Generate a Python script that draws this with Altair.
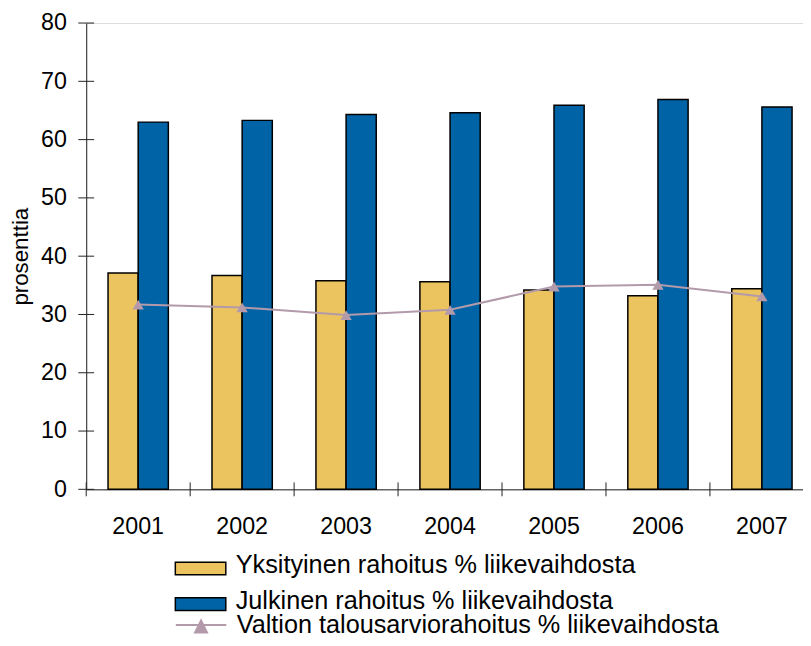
import altair as alt
import pandas as pd

years = ["2001", "2002", "2003", "2004", "2005", "2006", "2007"]
yksityinen = [37.1, 36.7, 35.8, 35.6, 34.2, 33.2, 34.4]
julkinen = [63.0, 63.3, 64.3, 64.6, 65.9, 66.9, 65.6]
valtion = [31.7, 31.2, 29.9, 30.8, 34.8, 35.1, 33.1]
bar_series = ["Yksityinen rahoitus % liikevaihdosta", "Julkinen rahoitus % liikevaihdosta"]
line_series = ["Valtion talousarviorahoitus % liikevaihdosta"]
y_ticks = [0, 10, 20, 30, 40, 50, 60, 70, 80]

bars_df = pd.DataFrame({
    "year": years * 2,
    "series": [bar_series[0]] * len(years) + [bar_series[1]] * len(years),
    "value": yksityinen + julkinen,
})
line_df = pd.DataFrame({"year": years, "series": line_series * len(years), "value": valtion})
ytick_df = pd.DataFrame({"v": y_ticks})
xtick_df = pd.DataFrame({"year": years})

FONT = "Liberation Sans"
YELLOW = "#EBC35F"
BLUE = "#0063A6"
MAUVE = "#B39AAB"
AXIS = "#222222"
W, H = 724, 471
RANGE = 735

yscale = alt.Scale(domain=[0, 80], nice=False, zero=True)
xscale = alt.Scale(domain=years, range=[0, RANGE], paddingInner=0.42, paddingOuter=0.21)

x_enc = alt.X("year:N", sort=years, scale=xscale,
              axis=alt.Axis(title=None, ticks=False, tickSize=0, labelFontSize=23.5, labelFont=FONT,
                            labelColor="#000000", labelPadding=26, domainColor=AXIS, labelAngle=0))
y_enc = alt.Y("value:Q", scale=yscale,
              axis=alt.Axis(title="prosenttia", values=y_ticks, ticks=False, tickSize=0, grid=False,
                            labelFontSize=23.5, labelFont=FONT, labelColor="#000000", labelPadding=20,
                            titleFontSize=22.5, titleFont=FONT, titleFontWeight="normal",
                            titleColor="#000000", titlePadding=8, domainColor=AXIS))

bars = alt.Chart(bars_df).mark_bar(stroke="#000000", strokeWidth=1.5).encode(
    x=x_enc,
    xOffset=alt.XOffset("series:N", sort=bar_series, scale=alt.Scale(paddingInner=0, paddingOuter=0)),
    y=y_enc,
    fill=alt.Fill("series:N", sort=bar_series,
                  scale=alt.Scale(domain=bar_series, range=[YELLOW, BLUE]),
                  legend=alt.Legend(title=None, orient="none", legendX=102, legendY=534,
                                    symbolType="M-2,-0.23H2V0.77H-2Z", symbolSize=650,
                                    symbolStrokeColor="#000000", symbolStrokeWidth=1.5,
                                    labelFont=FONT, labelFontSize=25.5, labelColor="#000000",
                                    labelOffset=22, rowPadding=9, padding=0, labelLimit=600)),
)

line = alt.Chart(line_df).mark_line(strokeWidth=2).encode(
    x=alt.X("year:N", sort=years),
    y=alt.Y("value:Q"),
    stroke=alt.Stroke("series:N", scale=alt.Scale(domain=line_series, range=[MAUVE]),
                      legend=alt.Legend(title=None, orient="none", legendX=102, legendY=594,
                                        symbolType="M-2,0H2M-0.47,0.59L0,-0.35L0.47,0.59Z",
                                        symbolSize=650, symbolFillColor=MAUVE, symbolStrokeColor=MAUVE,
                                        symbolStrokeWidth=2, labelFont=FONT, labelFontSize=25.5,
                                        labelColor="#000000", labelOffset=22, padding=0,
                                        labelLimit=700)),
)

points = alt.Chart(line_df).mark_point(shape="triangle-up", filled=True, size=130, opacity=1,
                                       color=MAUVE).encode(
    x=alt.X("year:N", sort=years),
    y=alt.Y("value:Q"),
)

yticks_in = alt.Chart(ytick_df).mark_rule(color=AXIS, strokeWidth=1).encode(
    y=alt.Y("v:Q"),
    x=alt.value(-8),
    x2=alt.value(8),
)

xticks = alt.Chart(xtick_df).mark_rule(color=AXIS, strokeWidth=1).encode(
    x=alt.X("year:N", sort=years, bandPosition=0,
            scale=alt.Scale(domain=years, range=[0, RANGE], paddingInner=0, paddingOuter=0),
            axis=None),
    y=alt.value(H - 7),
    y2=alt.value(H + 7),
)

main = alt.layer(bars, line, points, yticks_in)

chart = alt.layer(main, xticks).resolve_scale(x="independent").properties(
    width=W, height=H,
    autosize=alt.AutoSizeParams(type="none"),
    padding={"left": 79, "top": 12, "right": 0, "bottom": 150},
).configure_view(stroke=None).configure(background="#ffffff")

chart.save("out.html", embed_options={"renderer": "svg", "actions": False})
